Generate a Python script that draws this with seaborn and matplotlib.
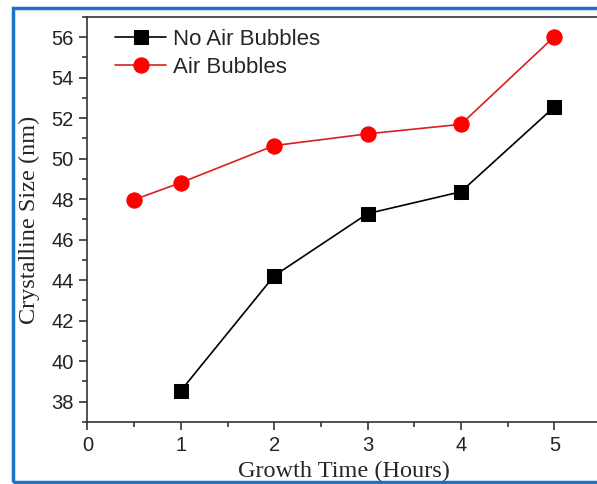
import matplotlib
matplotlib.use("Agg")
import matplotlib.pyplot as plt
import seaborn as sns
import pandas as pd
from matplotlib.patches import Rectangle
from matplotlib.ticker import MultipleLocator

# Data
time_no_air = [1, 2, 3, 4, 5]
size_no_air = [38.55, 44.22, 47.29, 48.37, 52.56]
time_air = [0.5, 1, 2, 3, 4, 5]
size_air = [47.98, 48.82, 50.65, 51.23, 51.70, 56.03]
labels = ["No Air Bubbles", "Air Bubbles"]
x_ticks = [0, 1, 2, 3, 4, 5]
y_ticks = [38, 40, 42, 44, 46, 48, 50, 52, 54, 56]

sns.set_style("ticks")
plt.rcParams['font.family'] = ['Liberation Sans', 'DejaVu Sans']

fig = plt.figure(figsize=(5.97, 4.84), dpi=100)
ax = fig.add_axes([87.5/597, 62/484, (601-87.5)/597, (422-17)/484])

df_no = pd.DataFrame({"t": time_no_air, "s": size_no_air})
df_air = pd.DataFrame({"t": time_air, "s": size_air})

sns.lineplot(data=df_no, x="t", y="s", ax=ax, color="black", marker="s",
             markersize=9.5, markeredgecolor="black", linewidth=1.2, label=labels[0])
sns.lineplot(data=df_air, x="t", y="s", ax=ax, color="#d82020", marker="o",
             markersize=11, markerfacecolor="#ff0000", markeredgecolor="#ff0000",
             linewidth=1.2, label=labels[1])

ax.set_xlim(0, 5.5)
ax.set_ylim(37, 57)
ax.set_xticks(x_ticks)
ax.set_yticks(y_ticks)
ax.xaxis.set_minor_locator(MultipleLocator(0.5))
ax.yaxis.set_minor_locator(MultipleLocator(1))
ax.tick_params(axis='both', which='major', direction='out', length=6, width=1.1, pad=4,
               labelsize=14.5, colors='#222222', top=False, right=False)
ax.tick_params(axis='both', which='minor', direction='out', length=3.5, width=1.1,
               top=False, right=False)
for sp in ax.spines.values():
    sp.set_linewidth(1.2)
    sp.set_color('#333333')
ax.spines['right'].set_visible(False)

ax.set_xlabel("Growth Time (Hours)", family=['Liberation Serif'], fontsize=17.5, labelpad=4)
ax.set_ylabel("Crystalline Size (nm)", family=['Liberation Serif'], fontsize=17.5, labelpad=8)

leg = ax.legend(loc='upper left', bbox_to_anchor=(0.015, 1.02), frameon=False,
                fontsize=16, handlelength=2.3, handletextpad=0.3, labelspacing=0.3)

fig.patches.append(Rectangle((13/597, 2/484), 1.0, (482-8)/484 + 0.0,
                             transform=fig.transFigure, fill=False,
                             edgecolor="#1a73c6", linewidth=2.5))

fig.savefig("out.png", dpi=100, facecolor="white")
